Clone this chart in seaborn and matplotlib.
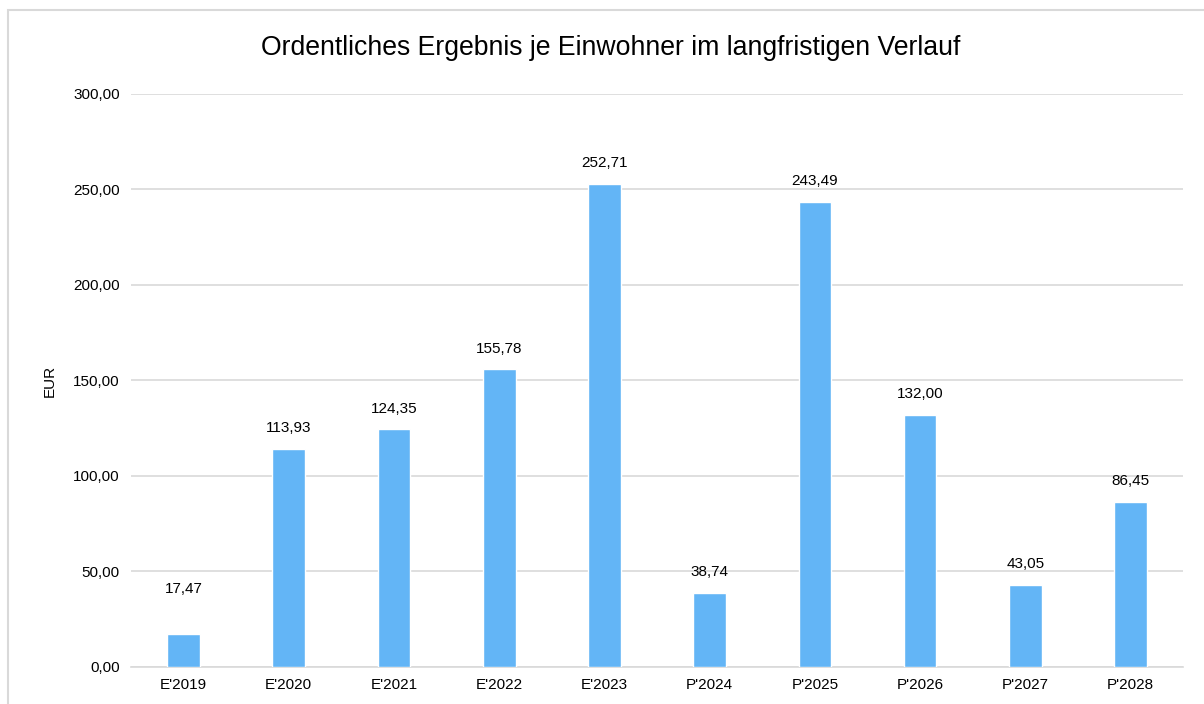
import matplotlib
matplotlib.use('Agg')
import matplotlib.pyplot as plt
import seaborn as sns
import pandas as pd
from matplotlib.patches import Rectangle

jahre = ["E'2019", "E'2020", "E'2021", "E'2022", "E'2023",
         "P'2024", "P'2025", "P'2026", "P'2027", "P'2028"]
werte = [17.47, 113.93, 124.35, 155.78, 252.71, 38.74, 243.49, 132.00, 43.05, 86.45]

df = pd.DataFrame({'Jahr': jahre, 'EUR': werte})

sns.set_theme(style='white')
plt.rcParams['font.family'] = ['Liberation Sans', 'DejaVu Sans']
plt.rcParams['text.color'] = 'black'

fig = plt.figure(figsize=(12.04, 7.04), dpi=100)
ax = fig.add_axes([0.1088, 0.0526, 0.8738, 0.8139])

# Rahmen um das Diagramm
fig.patches.append(Rectangle((8 / 1204, -0.1), 1.2, 1 - 10 / 704 + 0.1,
                             transform=fig.transFigure, fill=False,
                             edgecolor='#D9D9D9', linewidth=1.5))

sns.barplot(data=df, x='Jahr', y='EUR', color='#63B5F6', width=0.31,
            saturation=1, ax=ax, zorder=3)

for i, v in enumerate(werte):
    # erstes Label sitzt im Original etwas höher
    off = 27 if i == 0 else 10
    ax.annotate(f'{v:.2f}'.replace('.', ','), (i, v), xytext=(0, off),
                textcoords='offset points', ha='center', va='bottom',
                fontsize=11, color='black')

ax.set_ylim(0, 300)
ax.set_yticks(range(0, 301, 50))
ax.set_yticklabels([f'{t},00' for t in range(0, 301, 50)])
ax.set_xlim(-0.5, len(jahre) - 0.5)
ax.yaxis.grid(True, color='#D9D9D9', linewidth=1.2, zorder=0)
for s in ['top', 'right', 'left']:
    ax.spines[s].set_visible(False)
ax.spines['bottom'].set_color('#D9D9D9')
ax.spines['bottom'].set_linewidth(1.2)
ax.tick_params(axis='both', labelsize=11, colors='black', length=0, pad=8)
ax.set_xlabel('')
ax.set_ylabel('EUR', fontsize=11, labelpad=12, color='black')
fig.text(0.507, 0.932, 'Ordentliches Ergebnis je Einwohner im langfristigen Verlauf',
         ha='center', va='center', fontsize=19.2, color='black')

fig.savefig('out.png', dpi=100)
